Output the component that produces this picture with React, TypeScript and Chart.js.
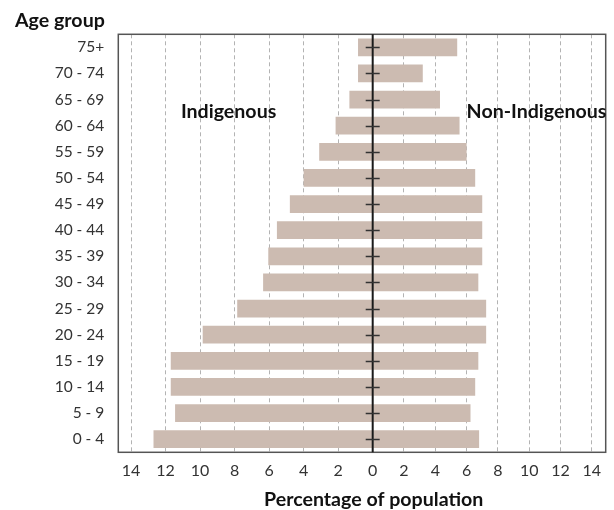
import React, { useEffect, useRef } from 'react';
import { Chart, registerables } from 'chart.js';

Chart.register(...registerables);

// ---- data ----
const ageGroups = ['75+', '70 - 74', '65 - 69', '60 - 64', '55 - 59', '50 - 54', '45 - 49', '40 - 44', '35 - 39', '30 - 34', '25 - 29', '20 - 24', '15 - 19', '10 - 14', '5 - 9', '0 - 4'];
const indigenous = [0.85, 0.85, 1.35, 2.15, 3.1, 4.0, 4.8, 5.55, 6.05, 6.35, 7.85, 9.85, 11.7, 11.7, 11.45, 12.7];
const nonIndigenous = [5.4, 3.2, 4.3, 5.55, 6.0, 6.55, 7.0, 7.0, 7.0, 6.75, 7.25, 7.25, 6.75, 6.55, 6.25, 6.8];
const xTicks = [0, 2, 4, 6, 8, 10, 12, 14];
const leftMax = 14.74;
const rightMax = 14.89;

const yTitle = 'Age group';
const xTitle = 'Percentage of population';
const leftLabel = 'Indigenous';
const rightLabel = 'Non-Indigenous';

const BAR = '#ccbbb1';
const FONT = 'Lato';
const BOLD = `bold 19.6px ${FONT}`;

const extras = {
  id: 'pyramidExtras',
  afterDatasetsDraw(chart: any) {
    const { ctx, chartArea: a, scales } = chart;
    const xL = scales.xL;
    const xR = scales.xR;
    const y = scales.y;
    const zero = xL.getPixelForValue(0);
    const line = (x1: number, y1: number, x2: number, y2: number) => {
      ctx.beginPath();
      ctx.moveTo(x1, y1);
      ctx.lineTo(x2, y2);
      ctx.stroke();
    };
    ctx.save();
    // frame
    ctx.strokeStyle = '#555';
    ctx.lineWidth = 1.5;
    ctx.strokeRect(a.left, a.top, a.right - a.left, a.bottom - a.top);
    // zero line
    ctx.strokeStyle = '#1a1a1a';
    ctx.lineWidth = 2;
    line(zero, a.top, zero, a.bottom);
    // centre tick marks
    ctx.strokeStyle = '#333';
    ctx.lineWidth = 1.5;
    ageGroups.forEach((_, i) => {
      const py = Math.round(y.getPixelForValue(i)) + 0.5;
      line(zero - 7, py, zero + 7, py);
    });
    // series labels
    ctx.fillStyle = '#111';
    ctx.font = BOLD;
    ctx.textBaseline = 'middle';
    ctx.textAlign = 'center';
    const ly = y.getPixelForValue(2.45);
    ctx.fillText(leftLabel, xL.getPixelForValue(8.35), ly);
    ctx.textAlign = 'left';
    ctx.fillText(rightLabel, xR.getPixelForValue(6), ly);
    ctx.restore();
  },
  afterDraw(chart: any) {
    const { ctx, scales } = chart;
    const zero = scales.xL.getPixelForValue(0);
    ctx.save();
    ctx.fillStyle = '#111';
    ctx.font = BOLD;
    ctx.textBaseline = 'alphabetic';
    ctx.textAlign = 'left';
    ctx.fillText(yTitle, 15, 27);
    ctx.textAlign = 'center';
    ctx.fillText(xTitle, zero + 1, 506);
    ctx.restore();
  },
};

const xAxis = (reverse: boolean, max: number, weight: number, stackWeight: number, hideZero: boolean) => ({
  type: 'linear' as const,
  position: 'bottom' as const,
  stack: 'x',
  stackWeight,
  weight,
  reverse,
  min: 0,
  max,
  afterBuildTicks: (scale: any) => {
    scale.ticks = xTicks.map((v) => ({ value: v }));
  },
  afterFit: (scale: any) => {
    scale.height = 510 - 452.3;
    scale.paddingLeft = 0;
    scale.paddingRight = 0;
  },
  grid: {
    drawTicks: false,
    lineWidth: 1,
    color: (c: any) => (c.tick && c.tick.value === 0 ? 'rgba(0,0,0,0)' : '#b3b3b3'),
  },
  border: { display: false, dash: [4, 3] },
  ticks: {
    padding: 9,
    color: '#333',
    font: { family: FONT, size: 16 },
    maxRotation: 0,
    autoSkip: false,
    callback: (v: any) => (hideZero && Number(v) === 0 ? '' : String(v)),
  },
});

export default function App() {
  const ref = useRef<HTMLCanvasElement>(null);
  useEffect(() => {
    const canvas = ref.current;
    if (!canvas) return;
    const chart = new Chart(canvas, {
      type: 'bar',
      data: {
        labels: ageGroups,
        datasets: [
          {
            label: leftLabel,
            data: indigenous,
            xAxisID: 'xL',
            yAxisID: 'y',
            backgroundColor: BAR,
            grouped: false,
            barPercentage: 0.68,
            categoryPercentage: 1,
          } as any,
          {
            label: rightLabel,
            data: nonIndigenous,
            xAxisID: 'xR',
            yAxisID: 'y',
            backgroundColor: BAR,
            grouped: false,
            barPercentage: 0.68,
            categoryPercentage: 1,
          } as any,
        ],
      },
      options: {
        indexAxis: 'y',
        responsive: false,
        animation: false,
        layout: { padding: { top: 34.3, right: 8.3, left: 0, bottom: 0 } },
        plugins: {
          legend: { display: false },
          tooltip: { enabled: false },
        },
        scales: {
          y: {
            type: 'category',
            position: 'left',
            offset: true,
            grid: { display: false, drawTicks: false },
            border: { display: false },
            afterFit: (scale: any) => {
              scale.width = 118.3;
              scale.paddingTop = 0;
              scale.paddingBottom = 0;
            },
            ticks: {
              padding: 14,
              color: '#333',
              font: { family: FONT, size: 15.5 },
              autoSkip: false,
            },
          },
          xL: xAxis(true, leftMax, 1, 254.4, false),
          xR: xAxis(false, rightMax, 2, 233, true),
        } as any,
      },
      plugins: [extras],
    });
    return () => chart.destroy();
  }, []);
  return (
    <div style={{ position: 'fixed', left: 0, top: 0, width: 614, height: 510, background: '#fff' }}>
      <canvas ref={ref} width={614} height={510} style={{ display: 'block', width: 614, height: 510 }} />
    </div>
  );
}
